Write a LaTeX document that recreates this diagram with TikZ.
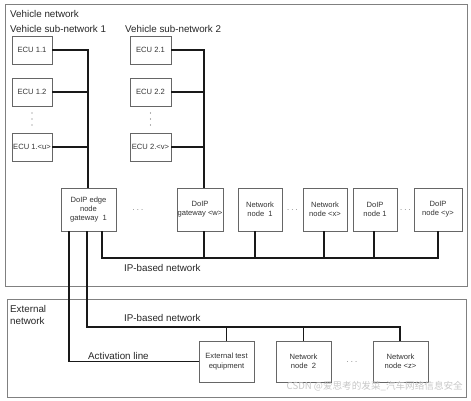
\documentclass[tikz,border=0pt]{standalone}
\usepackage{fontspec}
\setmainfont{Liberation Sans}
\newfontfamily\cjk{Noto Sans CJK SC}
\begin{document}
\begin{tikzpicture}[x=1pt,y=-1pt,
  frame/.style={draw=black!50,line width=1pt},
  box/.style={draw=black!60,line width=0.9pt,fill=white,text=black!80,font=\fontsize{7.6}{9.3}\selectfont,align=center,inner sep=0pt,minimum height=28pt},
  gbox/.style={box,minimum height=43pt},
  ebox/.style={box,minimum height=41pt,minimum width=55pt},
  conn/.style={draw=black!90,line width=1.5pt},
  lbl/.style={font=\fontsize{9.8}{11.5}\selectfont,text=black!85,inner sep=0pt,anchor=west},
  dots/.style={font=\fontsize{7.6}{9}\selectfont,text=black!60,inner sep=0pt},
  dotpt/.style={circle,fill=black!60,inner sep=0pt,minimum size=1.3pt}]
\useasboundingbox (0,0) rectangle (471,400);
% frames
\node[frame,inner sep=0pt,minimum width=462pt,minimum height=282pt] (vn) at (236,145) {};
\node[frame,inner sep=0pt,minimum width=459pt,minimum height=98pt] (en) at (236.5,348) {};
\node[lbl] (tvn) at (10,14) {Vehicle network};
\node[lbl] (ts1) at (10,29) {Vehicle sub-network 1};
\node[lbl] (ts2) at (125,29) {Vehicle sub-network 2};
\node[lbl,align=left] (ten) at (10,315) {External\\network};
% ECUs
\node[box,minimum width=40pt] (e11) at (32,50) {ECU 1.1};
\node[box,minimum width=40pt] (e12) at (32,92) {ECU 1.2};
\node[box,minimum width=40pt] (e1u) at (32,147) {ECU 1.<u>};
\node[box,minimum width=41pt] (e21) at (150.5,50) {ECU 2.1};
\node[box,minimum width=41pt] (e22) at (150.5,92) {ECU 2.2};
\node[box,minimum width=41pt] (e2v) at (150.5,147) {ECU 2.<v>};
\node[dotpt] (d1a) at (32,113) {};
\node[dotpt] (d1b) at (32,119) {};
\node[dotpt] (d1c) at (32,125) {};
\node[dotpt] (d2a) at (150.5,113) {};
\node[dotpt] (d2b) at (150.5,119) {};
\node[dotpt] (d2c) at (150.5,125) {};
% gateways and nodes
\node[gbox,minimum width=55pt] (gw1) at (88.5,209.5) {DoIP edge\\node\\gateway\ \ 1};
\node[dots] (d3) at (138,210) {.\ .\ .};
\node[gbox,minimum width=46pt] (gww) at (200,209.5) {DoIP\\gateway <w>};
\node[gbox,minimum width=44pt] (nn1) at (260,209.5) {Network\\node\ \ 1};
\node[dots] (d4) at (292.5,210) {.\ .\ .};
\node[gbox,minimum width=44pt] (nnx) at (325,209.5) {Network\\node <x>};
\node[gbox,minimum width=44pt] (dn1) at (375,209.5) {DoIP\\node 1};
\node[dots] (d5) at (405.5,210) {.\ .\ .};
\node[gbox,minimum width=48pt] (dny) at (438,209.5) {DoIP\\node <y>};
\node[lbl] (tip1) at (124,268) {IP-based network};
% external
\node[ebox] (ext) at (226.5,361.5) {External test\\equipment};
\node[ebox] (nn2) at (303.5,361.5) {Network\\node\ \ 2};
\node[dots] (d6) at (352,362) {.\ .\ .};
\node[ebox] (nnz) at (400.5,361.5) {Network\\node <z>};
\node[lbl] (tip2) at (124,318) {IP-based network};
\node[lbl] (tact) at (88,356) {Activation line};
% ECU buses
\draw[conn] (e11.east) -| ([xshift=-0.5pt]gw1.north);
\draw[conn] (e12.east) -- (e12.east -| gw1.north);
\draw[conn] (e1u.east) -- (e1u.east -| gw1.north);
\draw[conn] (e21.east) -| ([xshift=4pt]gww.north);
\draw[conn] (e22.east) -- (e22.east -| 204,0);
\draw[conn] (e2v.east) -- (e2v.east -| 204,0);
% IP-based network in vehicle
\coordinate (busR) at (438,258);
\draw[conn] ([xshift=13.5pt]gw1.south) |- (busR) -- (dny.south);
\draw[conn] ([xshift=4pt]gww.south) -- ([xshift=4pt]gww.south |- busR);
\draw[conn] ([xshift=-5pt]nn1.south) -- ([xshift=-5pt]nn1.south |- busR);
\draw[conn] ([xshift=-1pt]nnx.south) -- ([xshift=-1pt]nnx.south |- busR);
\draw[conn] ([xshift=-1pt]dn1.south) -- ([xshift=-1pt]dn1.south |- busR);
% external connections
\coordinate (bus2) at (87,327);
\draw[conn] ([xshift=-19.5pt]gw1.south) |- (ext.west);
\draw[conn] ([xshift=-1.5pt]gw1.south) -- (bus2) -| ([xshift=-0.5pt]nnz.north);
\draw[conn] (ext.north) -- (ext.north |- bus2);
\draw[conn] (nn2.north) -- (nn2.north |- bus2);
% watermark
\node[font=\cjk\fontsize{9.6}{11}\selectfont,text=black!22,anchor=east,inner sep=0pt] (wm) at (463,386) {CSDN @爱思考的发菜\_汽车网络信息安全};
\end{tikzpicture}
\end{document}
